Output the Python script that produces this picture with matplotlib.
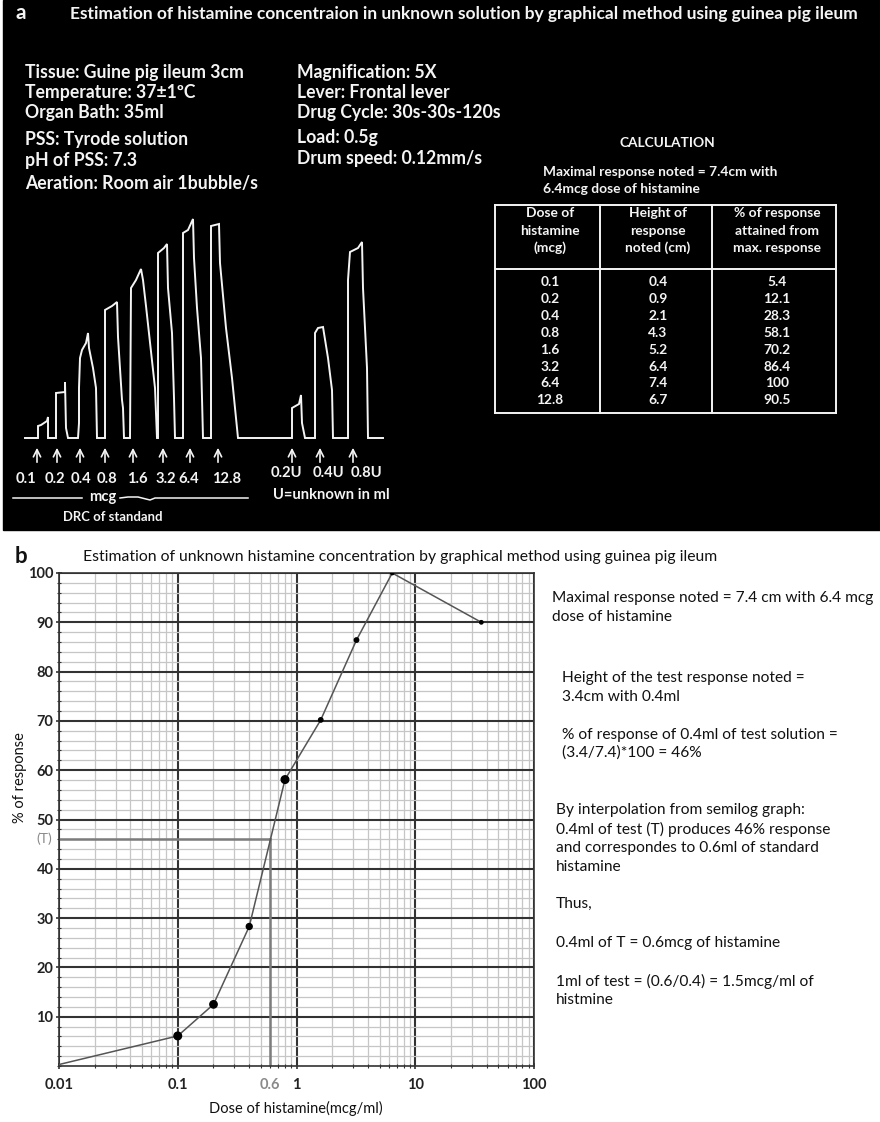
import matplotlib
matplotlib.use("Agg")
import matplotlib.pyplot as plt
from matplotlib.patches import Rectangle
from matplotlib.ticker import MultipleLocator, LogLocator, NullFormatter

plt.rcParams['font.family'] = ['Lato', 'DejaVu Sans']

# kymograph: drum position (mm) and contraction height (mm) for every dose
std_doses = ['0.1', '0.2', '0.4', '0.8', '1.6', '3.2', '6.4', '12.8']
std_drum = [
    [38, 38, 41, 47, 48, 48],
    [56, 56, 65, 65, 66, 68],
    [78, 79, 79, 80, 82, 86, 88, 89, 93, 96, 97],
    [105, 105, 112, 117, 118, 122, 123, 124],
    [130, 131, 136, 141, 143, 146, 155, 157],
    [158, 158, 164, 167, 168, 172, 174, 175],
    [183, 183, 188, 193, 194, 197, 201, 203],
    [211, 211, 219, 220, 226, 232, 238],
]
std_height = [
    [0, 12, 13, 17, 21, 0],
    [0, 45, 46, 56, 10, 0],
    [0, 15, 50, 80, 88, 95, 105, 90, 70, 50, 0],
    [0, 128, 132, 136, 101, 38, 30, 0],
    [0, 150, 158, 169, 158, 132, 50, 0],
    [0, 185, 190, 194, 150, 105, 40, 0],
    [0, 205, 208, 219, 180, 130, 80, 0],
    [0, 212, 214, 175, 110, 60, 0],
]
std_arrow_at = [37, 57, 80, 105, 133, 163, 190, 218]
std_label_at = [26, 55, 81, 107, 137, 166, 189, 227]

test_doses = ['0.2U', '0.4U', '0.8U']
test_drum = [
    [292, 292, 299, 301, 302, 305],
    [315, 315, 318, 323, 328, 332, 333],
    [348, 348, 350, 358, 362, 363, 367, 368],
]
test_height = [
    [0, 30, 34, 43, 15, 0],
    [0, 105, 110, 111, 80, 48, 0],
    [0, 158, 186, 190, 196, 150, 70, 0],
]
test_arrow_at = [292, 320, 353]
test_label_at = [286, 328, 366]
trace_start, trace_end = 25, 383

# calculation table
table_dose = ['0.1', '0.2', '0.4', '0.8', '1.6', '3.2', '6.4', '12.8']
table_height = ['0.4', '0.9', '2.1', '4.3', '5.2', '6.4', '7.4', '6.7']
table_pct = ['5.4', '12.1', '28.3', '58.1', '70.2', '86.4', '100', '90.5']
table_head = [['Dose of', 'histamine', '(mcg)'],
              ['Height of', 'response', 'noted (cm)'],
              ['% of response', 'attained from', 'max. response']]

# semilog dose-response curve
drc_dose = [0.01, 0.1, 0.2, 0.4, 0.8, 1.6, 3.2, 6.4, 36]
drc_resp = [0.3, 6.1, 12.5, 28.3, 58.1, 70.2, 86.4, 100, 90]
dot_size = [30, 28, 18, 30, 10, 10, 6, 6]
T_resp, T_dose = 46, 0.6

info_left = ['Tissue: Guine pig ileum 3cm', 'Temperature: 37\u00b11\u00baC', 'Organ Bath: 35ml',
             'PSS: Tyrode solution', 'pH of PSS: 7.3', 'Aeration: Room air 1bubble/s']
info_left_y = [72, 92, 112, 139, 160, 183]
info_mid = ['Magnification: 5X', 'Lever: Frontal lever', 'Drug Cycle: 30s-30s-120s',
            'Load: 0.5g', 'Drum speed: 0.12mm/s']
info_mid_y = [72, 92, 112, 137, 158]

notes = [
    (552, 598, 'Maximal response noted = 7.4 cm with 6.4 mcg'),
    (552, 617, 'dose of histamine'),
    (562, 678, 'Height of the test response noted ='),
    (562, 697, '3.4cm with 0.4ml'),
    (562, 735, '% of response of 0.4ml of test solution ='),
    (562, 753, '(3.4/7.4)*100 = 46%'),
    (556, 810, 'By interpolation from semilog graph:'),
    (556, 829, '0.4ml of test (T) produces 46% response'),
    (556, 848, 'and correspondes to 0.6ml of standard'),
    (556, 867, 'histamine'),
    (556, 904, 'Thus,'),
    (556, 943, '0.4ml of T = 0.6mcg of histamine'),
    (556, 981, '1ml of test = (0.6/0.4) = 1.5mcg/ml of'),
    (556, 1000, 'histmine'),
]

fig = plt.figure(figsize=(8.8, 11.22), dpi=100)
bg = fig.add_axes([0, 0, 1, 1])
bg.set_xlim(0, 880)
bg.set_ylim(1122, 0)
bg.axis('off')
bg.add_patch(Rectangle((3, 0), 877, 530, color='black'))
renderer = fig.canvas.get_renderer()


def put(ax, x, y, s, size, width=None, **kw):
    kw.setdefault('va', 'center')
    t = ax.text(x, y, s, fontsize=size, **kw)
    if width:
        w = t.get_window_extent(renderer).width
        t.set_fontsize(size * width / w)
    return t.get_fontsize()


W = '#f4f4f4'
# ---- panel a: header and experiment details
put(bg, 15, 13, 'a', 15, color=W, weight='bold')
put(bg, 70, 14, 'Estimation of histamine concentraion in unknown solution by graphical method '
    'using guinea pig ileum', 11, width=785, color=W, weight='bold')
fs = put(bg, 25, info_left_y[0], info_left[0], 11, width=218, color=W, weight='bold')
for s, y in zip(info_left[1:], info_left_y[1:]):
    put(bg, 25, y, s, fs, color=W, weight='bold')
for s, y in zip(info_mid, info_mid_y):
    put(bg, 297, y, s, fs, color=W, weight='bold')

fc = put(bg, 543, 172, 'Maximal response noted = 7.4cm with', 9, width=234, color=W, weight='bold')
put(bg, 543, 189, '6.4mcg dose of histamine', fc, color=W, weight='bold')
put(bg, 667, 143, 'CALCULATION', fc, color=W, weight='bold', ha='center')

# table
tl, tr, tt, tb, th = 495, 836, 205, 413, 269
cols = [tl, 600, 712, tr]
for x in cols:
    bg.plot([x, x], [tt, tb], color=W, lw=1.4)
for y in (tt, th, tb):
    bg.plot([tl, tr], [y, y], color=W, lw=1.4)
col_mid = [550, 658, 777]
for cx, head in zip(col_mid, table_head):
    for y, s in zip([213, 231, 248], head):
        put(bg, cx, y, s, fc, color=W, weight='bold', ha='center')
for i, row in enumerate(zip(table_dose, table_height, table_pct)):
    for cx, s in zip(col_mid, row):
        put(bg, cx, 282 + i * 16.9, s, fc, color=W, weight='bold', ha='center')

# kymograph trace
ky = fig.add_axes([0, (1122 - 528) / 1122, 400 / 880, 330 / 1122])
ky.set_xlim(0, 400)
ky.set_ylim(-90, 240)
ky.axis('off')
xs, hs = [trace_start], [0]
for dx, dh in zip(std_drum + test_drum, std_height + test_height):
    xs += dx
    hs += dh
xs.append(trace_end)
hs.append(0)
ky.plot(xs, hs, color=W, lw=1.4, solid_joinstyle='miter')

for x in std_arrow_at + test_arrow_at:
    ky.annotate('', xy=(x, -7), xytext=(x, -27),
                arrowprops=dict(arrowstyle='->', color=W, lw=1.2, mutation_scale=13))
fk = put(ky, 113, -79, 'DRC of standand', 9, width=100, color=W, weight='bold', ha='center')
fl = fk * 1.12
for x, s in zip(std_label_at, std_doses):
    put(ky, x, -41, s, fl, color=W, weight='bold', ha='center')
for x, s in zip(test_label_at, test_doses):
    put(ky, x, -35, s, fl, color=W, weight='bold', ha='center')
put(ky, 331, -57, 'U=unknown in ml', fl, color=W, weight='bold', ha='center')
put(ky, 103, -59, 'mcg', fl, color=W, weight='bold', ha='center')
ky.plot([13, 82], [-60, -60], color=W, lw=1.1)
ky.plot([120, 128, 138, 150, 155, 248], [-60, -59, -59, -62, -60, -60], color=W, lw=1.1)

# ---- panel b: semilog plot
put(bg, 15, 556, 'b', 16, color='#111', weight='bold')
put(bg, 83, 557, 'Estimation of unknown histamine concentration by graphical method using guinea pig ileum',
    10, width=635, color='#111')

ax = fig.add_axes([59 / 880, 56 / 1122, 475 / 880, 493 / 1122])
ax.set_xscale('log')
ax.set_xlim(0.01, 100)
ax.set_ylim(0, 100)
ax.set_axisbelow(True)
ax.xaxis.set_minor_locator(LogLocator(base=10, subs=range(2, 10)))
ax.xaxis.set_minor_formatter(NullFormatter())
ax.yaxis.set_minor_locator(MultipleLocator(2))
ax.grid(which='minor', color='#c6c6c6', lw=0.9)
ax.grid(which='major', color='#333333', lw=1.5)
for sp in ax.spines.values():
    sp.set_color('#333333')
    sp.set_linewidth(1.2)
ax.set_xticks([0.01, 0.1, 1, 10, 100])
ax.set_xticklabels(['0.01', '0.1', '1', '10', '100'], fontsize=10.5, fontweight='bold', color='#222')
ax.set_yticks(range(10, 101, 10))
ax.set_yticklabels([str(v) for v in range(10, 101, 10)], fontsize=10.5, fontweight='bold', color='#222')
ax.tick_params(which='both', direction='inout', color='#333333')
ax.tick_params(which='major', length=5, width=1.2)
ax.tick_params(which='minor', length=3, width=0.8)
ax.tick_params(axis='y', pad=1.5)
ax.tick_params(axis='x', pad=6)

ax.plot([0.01, T_dose], [T_resp, T_resp], color='#7c7c7c', lw=1.8, zorder=2.5)
ax.plot([T_dose, T_dose], [0, T_resp], color='#7c7c7c', lw=1.8, zorder=2.5)
ax.plot(drc_dose, drc_resp, color='#555555', lw=1.1, zorder=3)
ax.scatter(drc_dose[1:], drc_resp[1:], s=dot_size, color='black', zorder=4)
ax.annotate('(T)', xy=(0, T_resp), xycoords=('axes fraction', 'data'), xytext=(-5, 0),
            textcoords='offset points', ha='right', va='center', color='#8a8a8a', fontsize=10)
ax.annotate(str(T_dose), xy=(T_dose, 0), xycoords=('data', 'axes fraction'), xytext=(0, -8.5),
            textcoords='offset points', ha='center', va='top', color='#8a8a8a', fontsize=10.5,
            fontweight='bold')

put(bg, 296, 1108, 'Dose of histamine(mcg/ml)', 10.5, color='#111', ha='center')
put(bg, 20, 778, '% of response', 10.5, color='#111', ha='center', rotation=90)

fn = put(bg, notes[0][0], notes[0][1], notes[0][2], 10, width=323, color='#111')
for x, y, s in notes[1:]:
    put(bg, x, y, s, fn, color='#111')

fig.savefig('out.png', dpi=100, facecolor='white')
